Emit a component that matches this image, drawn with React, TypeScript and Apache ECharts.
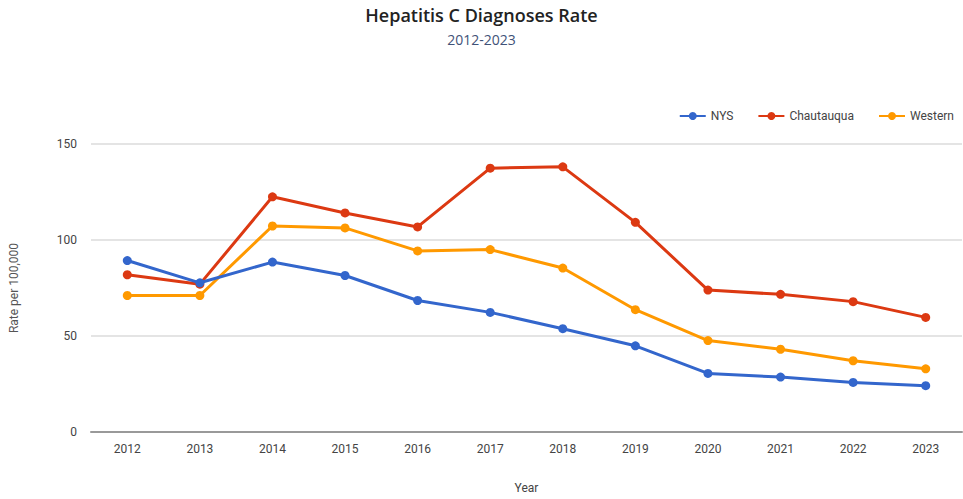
import React, { useEffect, useRef } from "react";
import * as echarts from "echarts";

const years = ["2012", "2013", "2014", "2015", "2016", "2017", "2018", "2019", "2020", "2021", "2022", "2023"];
const nys = [89.3, 77.7, 88.5, 81.5, 68.5, 62.3, 53.8, 44.9, 30.5, 28.6, 25.8, 24.1];
const chautauqua = [81.9, 77.0, 122.5, 114.1, 106.8, 137.4, 138.1, 109.2, 73.9, 71.7, 67.9, 59.7];
const western = [71.1, 71.1, 107.3, 106.3, 94.3, 95.0, 85.4, 63.7, 47.6, 43.1, 37.1, 32.9];
const seriesNames = ["NYS", "Chautauqua", "Western"];
const colors = ["#3366cc", "#dc3912", "#ff9900"];

export default function App() {
  const ref = useRef<HTMLDivElement>(null);
  useEffect(() => {
    if (!ref.current) return;
    const chart = echarts.init(ref.current, null, { renderer: "svg" });
    const data = [nys, chautauqua, western];
    chart.setOption({
      animation: false,
      backgroundColor: "#ffffff",
      textStyle: { fontFamily: "Roboto, 'Open Sans', sans-serif" },
      title: {
        text: "Hepatitis C Diagnoses Rate",
        subtext: "2012-2023",
        left: "center",
        top: 1,
        itemGap: 8,
        textStyle: { fontFamily: "'Open Sans', sans-serif", fontSize: 18, fontWeight: 600, color: "#222222" },
        subtextStyle: { fontFamily: "'Open Sans', sans-serif", fontSize: 14, color: "#3f5278" },
      },
      legend: {
        data: seriesNames,
        right: 4,
        top: 105,
        itemWidth: 26,
        itemHeight: 10,
        itemGap: 24,
        textStyle: { fontSize: 12, color: "#444444" },
      },
      grid: { left: 91, right: 1, top: 144, bottom: 53, containLabel: false },
      xAxis: {
        type: "category",
        data: years,
        boundaryGap: true,
        name: "Year",
        nameLocation: "middle",
        nameGap: 50,
        nameTextStyle: { fontSize: 12, color: "#444444" },
        axisLine: { lineStyle: { color: "#999999", width: 2 } },
        axisTick: { show: false },
        axisLabel: { fontSize: 12, color: "#444444", margin: 11 },
      },
      yAxis: {
        type: "value",
        min: 0,
        max: 150,
        interval: 50,
        name: "Rate per 100,000",
        nameLocation: "middle",
        nameGap: 71,
        nameTextStyle: { fontSize: 12, color: "#555555" },
        axisLine: { show: false },
        axisTick: { show: false },
        axisLabel: { fontSize: 12, color: "#444444", margin: 14 },
        splitLine: { lineStyle: { color: "#e4e4e4", width: 2 } },
      },
      series: seriesNames.map((name, i) => ({
        name,
        type: "line",
        data: data[i],
        symbol: "circle",
        symbolSize: 9,
        lineStyle: { color: colors[i], width: 3 },
        itemStyle: { color: colors[i] },
        z: 10 - i,
      })),
    });
    return () => chart.dispose();
  }, []);
  return <div ref={ref} style={{ position: "absolute", left: 0, top: 0, width: 963, height: 499 }} />;
}
